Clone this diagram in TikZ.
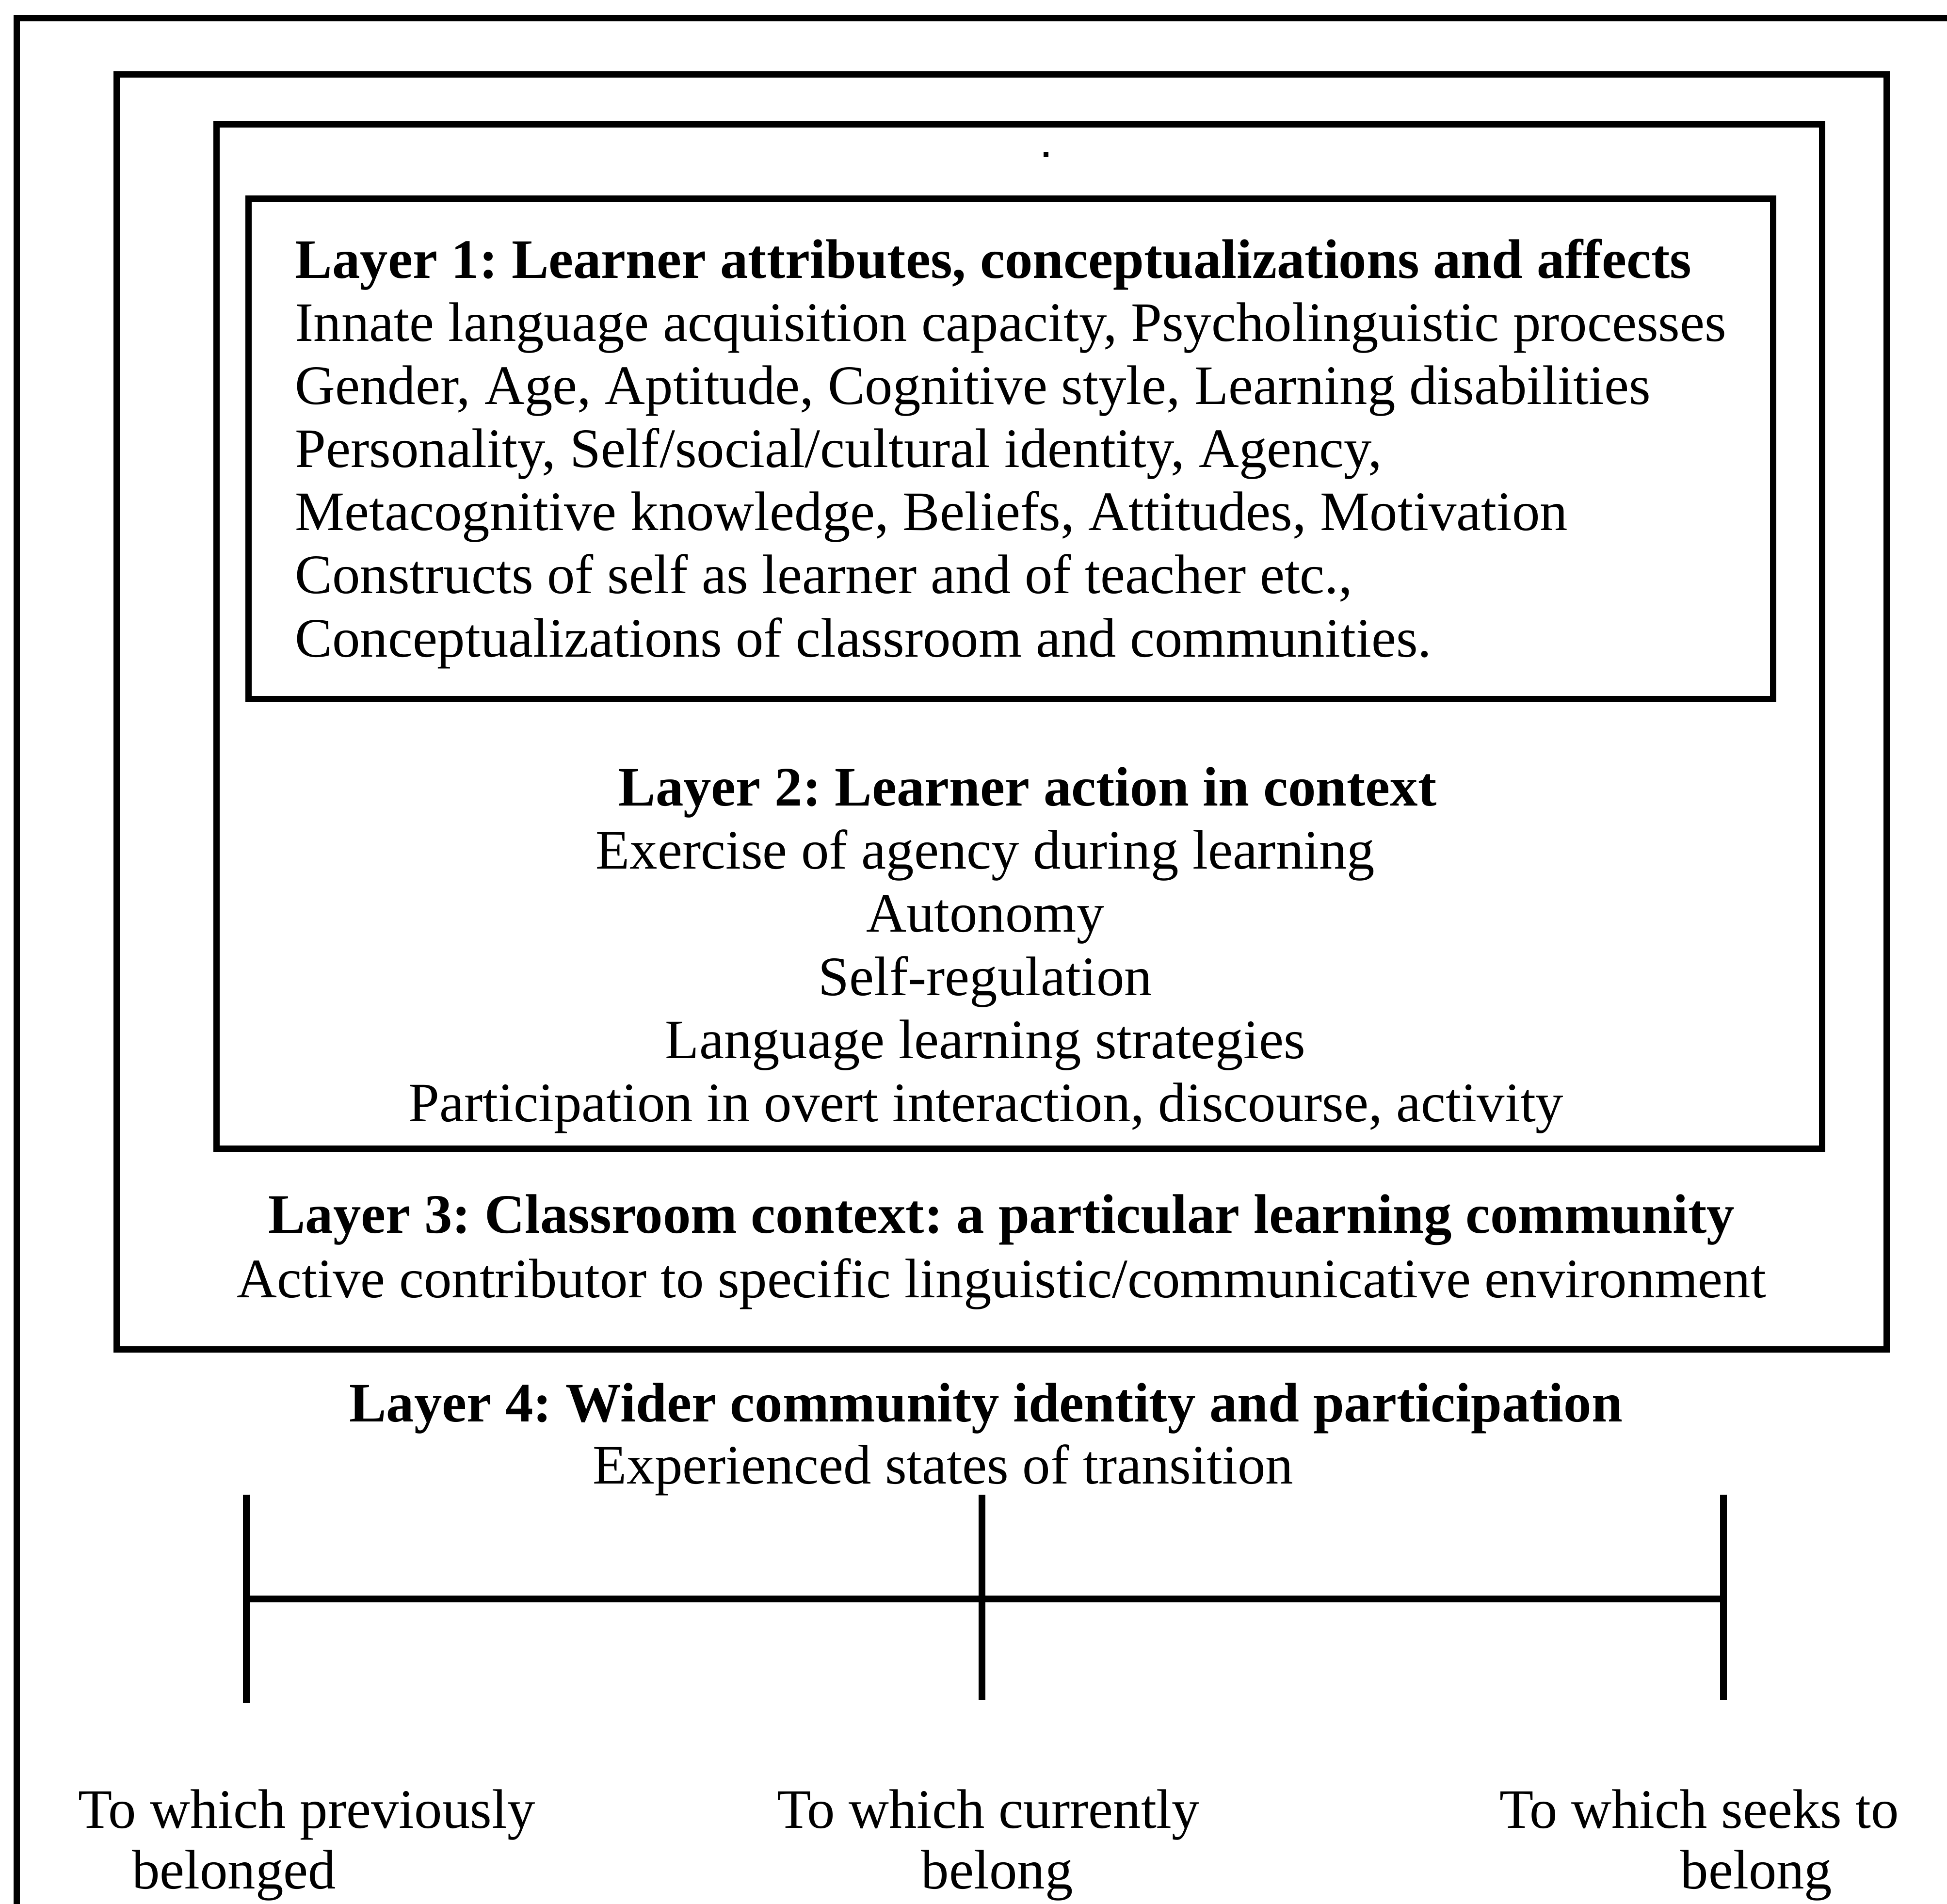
\documentclass[tikz,border=0pt]{standalone}
\usepackage{fontspec}
\setmainfont{Liberation Serif}
\frenchspacing
\begin{document}
\begin{tikzpicture}[x=0.01cm,y=-0.01cm,
  frame/.style={line width=1.45pt,line join=miter},
  tline/.style={line width=1.55pt},
  txt/.style={inner sep=0pt,font=\fontsize{12.75pt}{14.5pt}\selectfont\frenchspacing},
  ltxt/.style={txt,anchor=base west},
  ctxt/.style={txt,anchor=base},
  btxt/.style={txt,anchor=base,font=\fontsize{12.75pt}{14.5pt}\selectfont\bfseries\frenchspacing},
  lbtxt/.style={txt,anchor=base west,font=\fontsize{12.75pt}{14.5pt}\selectfont\bfseries\frenchspacing}]
\useasboundingbox (0,0) rectangle (1568,1533);
\clip (0,0) rectangle (1568,1533);
\fill[white] (0,0) rectangle (1568,1533);
% outer frame (cut by the page edges)
\draw[frame] (13.5,1545) -- (13.5,14.5) -- (1580,14.5);
% Layer 3 box
\draw[frame] (93.8,60) rectangle (1519.5,1086.5);
% Layer 2 box
\draw[frame] (174.5,100) rectangle (1467.6,925);
% Layer 1 box
\draw[frame] (200,160) rectangle (1428,563);
% small dot
\fill (840.5,122.4) rectangle (844.5,126.4);
% Layer 1
\node[lbtxt] (l1h) at (237,224) {Layer 1: Learner attributes, conceptualizations and affects};
\node[ltxt] (l1a) at (237,274.8) {Innate language acquisition capacity, Psycholinguistic processes};
\node[ltxt] (l1b) at (237,325.6) {Gender, Age, Aptitude, Cognitive style, Learning disabilities};
\node[ltxt] (l1c) at (237,376.4) {Personality, Self/social/cultural identity, Agency,};
\node[ltxt] (l1d) at (237,427.2) {Metacognitive knowledge, Beliefs, Attitudes, Motivation};
\node[ltxt] (l1e) at (237,478) {Constructs of self as learner and of teacher etc.,};
\node[ltxt] (l1f) at (237,528.8) {Conceptualizations of classroom and communities.};
% Layer 2
\node[btxt] (l2h) at (827.5,649) {Layer 2: Learner action in context};
\node[ctxt] (l2a) at (793.5,699.8) {Exercise of agency during learning};
\node[ctxt] (l2b) at (793.5,750.6) {Autonomy};
\node[ctxt] (l2c) at (793.5,801.4) {Self-regulation};
\node[ctxt] (l2d) at (793.5,852.2) {Language learning strategies};
\node[ctxt] (l2e) at (794,903) {Participation in overt interaction, discourse, activity};
% Layer 3
\node[btxt] (l3h) at (806.5,993) {Layer 3: Classroom context: a particular learning community};
\node[ctxt] (l3a) at (806.5,1045) {Active contributor to specific linguistic/communicative environment};
% Layer 4
\node[btxt] (l4h) at (794,1145) {Layer 4: Wider community identity and participation};
\node[ctxt] (l4a) at (759.5,1195) {Experienced states of transition};
% timeline
\coordinate (p1t) at (198.5,1203.5);
\coordinate (p1b) at (198.5,1371);
\coordinate (p1m) at (198.5,1287.6);
\coordinate (p2t) at (790.8,1203.5);
\coordinate (p2b) at (790.8,1369);
\coordinate (p3t) at (1388,1203.5);
\coordinate (p3b) at (1388,1369);
\coordinate (p3m) at (1388,1287.6);
\draw[tline] (p1t) -- (p1b);
\draw[tline] (p2t) -- (p2b);
\draw[tline] (p3t) -- (p3b);
\draw[tline] (p1m) -- (p3m);
% labels
\node[ctxt] (a1) at (247,1472) {To which previously};
\node[ctxt] (a2) at (188.5,1521) {belonged};
\node[ctxt] (b1) at (796,1472) {To which currently};
\node[ctxt] (b2) at (803,1521) {belong};
\node[ctxt] (c1) at (1368.5,1472) {To which seeks to};
\node[ctxt] (c2) at (1414.5,1521) {belong};
\end{tikzpicture}
\end{document}
